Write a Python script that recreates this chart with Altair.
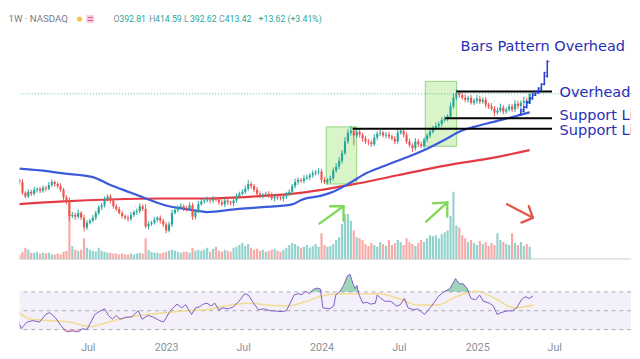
import altair as alt
import pandas as pd

# ---------------- data (weekly bars) ----------------
closes = [
    235, 231, 209, 201, 211, 207, 215, 217, 213, 219,
    217, 225, 231, 227, 223, 215, 199, 191, 161, 163,
    159, 167, 157, 137, 147, 151, 157, 167, 179, 183,
    195, 201, 193, 181, 175, 167, 161, 157, 155, 163,
    169, 171, 181, 175, 139, 145, 147, 153, 157, 151,
    143, 131, 143, 167, 173, 179, 181, 177, 175, 183,
    159, 171, 185, 191, 193, 195, 193, 197, 195, 189,
    185, 193, 189, 187, 193, 201, 207, 211, 217, 227,
    223, 215, 207, 203, 205, 207, 203, 197, 201, 199,
    197, 201, 205, 211, 223, 231, 235, 233, 239, 241,
    245, 249, 251, 253, 235, 231, 235, 239, 255, 263,
    275, 291, 315, 333, 337, 327, 335, 329, 321, 315,
    313, 309, 323, 331, 333, 327, 329, 325, 321, 315,
    333, 337, 329, 315, 307, 301, 315, 309, 305, 319,
    327, 335, 343, 347, 351, 359, 363, 367, 387, 405,
    415, 411, 405, 401, 405, 395, 399, 403, 397, 401,
    391, 387, 383, 375, 379, 385, 377, 381, 387, 381,
    393, 388, 395, 399, 392.81, 413.42,
]
first_open = 239.0
wick_up = [
    5, 4, 6, 3, 5, 4, 6, 3, 4, 5,
    4, 6, 5, 3, 4, 6, 4, 5, 8, 6,
    5, 7, 4, 6, 5, 4, 6, 5, 4, 5,
    6, 4, 5, 3, 4, 5, 4, 3, 5, 6,
    4, 5, 6, 4, 10, 5, 4, 6, 3, 5,
    4, 5, 6, 7, 5, 4, 6, 4, 5, 6,
    5, 4, 7, 5, 4, 6, 3, 5, 4, 5,
    6, 4, 5, 3, 5, 6, 4, 5, 7, 8,
    5, 4, 6, 5, 3, 4, 5, 6, 4, 5,
    3, 4, 6, 5, 4, 7, 5, 4, 6, 5,
    4, 6, 5, 7, 5, 6, 4, 5, 6, 7,
    8, 6, 9, 7, 10, 8, 6, 5, 4, 6,
    5, 4, 7, 5, 6, 4, 5, 6, 4, 5,
    7, 6, 4, 5, 6, 4, 7, 5, 6, 4,
    5, 6, 4, 7, 5, 6, 5, 4, 8, 9,
    8, 6, 5, 7, 4, 6, 5, 8, 6, 5,
    6, 4, 7, 5, 6, 8, 5, 4, 6, 5,
    7, 6, 5, 8, 6, 1.17,
]
wick_dn = [
    4, 6, 5, 4, 3, 5, 4, 6, 5, 4,
    5, 3, 4, 6, 5, 4, 5, 6, 10, 5,
    6, 4, 5, 8, 5, 4, 3, 5, 4, 6,
    5, 4, 6, 5, 4, 3, 5, 4, 6, 5,
    4, 6, 5, 4, 4, 6, 5, 4, 5, 6,
    5, 6, 4, 5, 3, 5, 4, 6, 5, 4,
    6, 5, 4, 3, 5, 4, 6, 5, 4, 5,
    4, 6, 5, 4, 6, 5, 4, 3, 5, 4,
    6, 5, 4, 5, 6, 4, 5, 4, 6, 5,
    4, 6, 5, 3, 4, 5, 6, 4, 5, 4,
    6, 5, 4, 5, 6, 4, 5, 6, 5, 4,
    5, 6, 4, 5, 6, 20, 5, 6, 7, 5,
    6, 5, 4, 6, 5, 4, 6, 5, 4, 6,
    5, 4, 6, 5, 4, 8, 5, 6, 4, 5,
    6, 5, 4, 5, 6, 5, 4, 6, 5, 4,
    5, 6, 4, 5, 6, 4, 5, 6, 5, 4,
    6, 5, 4, 8, 5, 4, 6, 5, 4, 5,
    5, 6, 4, 5, 4, 0.19,
]
volume = [
    6, 5, 8, 12, 10, 7, 7, 8, 6, 7,
    6, 7, 5, 5, 6, 5, 8, 9, 50, 14,
    10, 9, 10, 22, 12, 10, 9, 8, 12, 9,
    8, 7, 7, 6, 6, 5, 6, 5, 5, 6,
    5, 6, 7, 6, 22, 10, 8, 7, 7, 6,
    7, 8, 9, 10, 9, 8, 7, 8, 8, 7,
    12, 9, 10, 9, 10, 12, 8, 11, 13, 9,
    8, 10, 9, 8, 12, 13, 15, 17, 14, 16,
    12, 10, 11, 9, 10, 8, 9, 10, 11, 9,
    8, 10, 12, 15, 17, 16, 14, 12, 13, 15,
    12, 14, 16, 13, 27, 15, 13, 14, 16, 20,
    23, 37, 47, 47, 40, 30, 23, 22, 20, 16,
    14, 17, 15, 13, 18, 16, 14, 20, 15, 17,
    20, 18, 15, 22, 18, 16, 14, 17, 20, 18,
    22, 25, 24, 25, 22, 26, 28, 30, 45, 70,
    35, 33, 25, 22, 18, 20, 17, 15, 19, 16,
    18, 14, 17, 15, 27, 20, 18, 16, 15, 27,
    17, 15, 18, 14, 16, 13,
]

# moving averages (week index, price)
blue_w = [0, 8, 16, 26, 32, 39, 45, 52, 58, 65, 75, 84, 94, 97.5, 104, 108,
          113.7, 119.2, 124, 130, 139.7, 146.2, 151, 156, 162.4, 168.9, 175]
blue_p = [259, 255, 249, 241, 225, 209, 195, 181, 175, 169, 175, 179, 185, 195, 203, 211,
          229, 249, 261, 275, 299, 319, 335, 345, 355, 365, 375]
red_w = [0, 16, 32, 49, 65, 81, 97.5, 113.7, 130, 146.2, 162.4, 175]
red_p = [185, 191, 195, 197, 197, 201, 209, 225, 245, 265, 281, 297]

# RSI and its average
rsi_w = [0, 1.9, 3.2, 5.2, 7.1, 9.4, 11.4, 12.7, 14.6, 16.6,
         18.5, 20.5, 22.4, 23.7, 25.3, 26.6, 27.9, 29.9, 31.2, 32.5,
         33.8, 35.1, 36.4, 38.3, 40.3, 42.5, 43.8, 45.8, 47.7, 49.7,
         51, 52.9, 54.2, 55.5, 57.1, 58.4, 60.4, 61.7, 63, 64.3,
         65.6, 66.9, 68.2, 69.5, 70.8, 72.7, 74.4, 76.3, 78.2, 79.5,
         80.8, 82.8, 84.7, 86.7, 88.6, 90.9, 92.2, 93.5, 94.8, 96.1,
         97.4, 98.7, 100, 101.3, 102.6, 103.6, 104.5, 106.8, 108.1, 108.8,
         110.1, 111.4, 112.7, 113.6, 114.6, 115.3, 115.9, 116.6, 117.9, 119.2,
         120.5, 122.1, 122.7, 124, 125.3, 127.3, 129.2, 130.5, 131.8, 133.1,
         135.1, 136.4, 138.6, 139.9, 141.2, 143.2, 145.1, 147.1, 149, 150.3,
         151.6, 152.9, 154.2, 155.8, 157.1, 158.4, 160.4, 161.7, 163, 164.3,
         166.2, 168.2, 169.5, 171.1, 172.4, 173.7, 175]
rsi_v = [51, 43, 31, 38, 39.5, 38, 46, 48, 43, 34,
         27.6, 28.6, 27.6, 31, 30, 38, 46, 50, 52, 45,
         41, 45, 41, 43, 43.5, 50, 41, 45, 43, 39.5,
         38, 48, 53, 57, 53, 56.5, 46, 53, 54, 57,
         58, 55, 58, 51, 53, 52, 54, 60, 68, 66.5,
         60, 51, 52, 50, 49.7, 49, 50, 58, 66.6, 68,
         67, 70.7, 68, 72.7, 74, 73, 53, 52, 55, 66.6,
         70, 76.8, 87, 88.6, 78.5, 73.4, 76.8, 67, 58, 59,
         57, 58, 66.6, 63, 60, 60, 55, 56.4, 63, 53,
         51, 52, 46, 51, 56, 65, 70, 73.4, 84, 78.5,
         78.5, 73.4, 63, 61.5, 66.6, 60, 58, 55, 46, 48,
         49.7, 50, 53, 61.5, 65, 63, 65.6]
rsi_ma_w = [0, 6.5, 13, 19.5, 26, 32.5, 39, 45.5, 51.9, 58.4, 64.9, 71.4, 79.5, 86,
            92.5, 99, 103.9, 110.4, 116.9, 123.4, 129.9, 136.4, 142.9, 149.4, 155.8,
            162.3, 168.8, 175]
rsi_ma_v = [55, 41, 39.5, 38, 33, 38, 43, 46, 48, 50, 51, 55, 58, 56,
            55, 60, 65.6, 68, 68, 68, 63, 56, 56, 65, 70.7, 63, 53, 56]

# annotations
box_w1 = [105.6, 139.4]
box_w2 = [116.0, 150.1]
box_lo = [227, 305]
box_hi = [345, 439]
lvl_w1 = [150.0, 146.2, 114.6]
lvl_w2 = [182.6, 182.6, 182.6]
lvl_p = [418, 363, 341]
proj_w = [172, 173, 174, 175, 176, 177, 178, 179, 180, 181]
proj_lo = [369, 375, 383, 393, 401, 409, 413, 419, 431, 447]
proj_hi = [383, 389, 399, 407, 415, 421, 427, 435, 459, 483]
proj_open = [371, 377, 385, 395, 403, 410, 415, 421, 433, 450]
proj_close = [381, 387, 397, 405, 413, 419, 425, 433, 457, 480]
garrow_w1 = [103.3, 111.5, 111.5, 139.7, 146.9, 146.9]
garrow_p1 = [145, 181, 181, 149, 189, 189]
garrow_w2 = [111.5, 106.9, 111.5, 146.9, 142.0, 146.9]
garrow_p2 = [181, 181, 151, 189, 187, 159]
rarrow_w1 = [167.3, 176.1, 176.1]
rarrow_p1 = [185, 157, 157]
rarrow_w2 = [176.1, 172.2, 174.7]
rarrow_p2 = [157, 147, 181]
note_text = ["Bars Pattern Overhead", "Overhead Resistance", "Support Line", "Support Line"]
note_w = [151.4, 185.2, 185.2, 185.2]
note_p = [511, 417, 369, 339]
last_close = 413.42

hdr_keys = ["O", "H", "L", "C"]
hdr_vals = ["392.81", "414.59", "392.62", "413.42"]
hdr_change = "+13.62 (+3.41%)"
hdr_title = "1W \u00b7 NASDAQ"

tick_weeks = [25.57, 51.86, 77.71, 104, 130, 156.29, 182.14]
tick_labels = ["Jul", "2023", "Jul", "2024", "Jul", "2025", "Jul"]

# ---------------- build ----------------
W, HM, HR = 632, 254, 78
G, R = "#26a69a", "#ef5350"
xs = alt.Scale(domain=[2.673, 207.92], nice=False, zero=False)
ps = alt.Scale(domain=[71, 579], nice=False, zero=False)
vs = alt.Scale(domain=[0, 254], nice=False, zero=False)
rs = alt.Scale(domain=[21.3, 101.3], nice=False, zero=False)

opens = [first_open] + closes[:-1]
cdf = pd.DataFrame({"w": list(range(len(closes))), "open": opens, "close": closes, "vol": volume})
cdf["high"] = [max(o, c) + u for o, c, u in zip(opens, closes, wick_up)]
cdf["low"] = [min(o, c) - d for o, c, d in zip(opens, closes, wick_dn)]
cdf["dir"] = ["up" if c >= o else "down" for o, c in zip(opens, closes)]
col = alt.Color("dir:N", scale=alt.Scale(domain=["up", "down"], range=[G, R]), legend=None)


def X(f):
    return alt.X(f"{f}:Q", scale=xs, axis=None)


def P(f):
    return alt.Y(f"{f}:Q", scale=ps, axis=None)


def PX(f):
    return alt.X(f"{f}:Q", scale=None)


def PY(f):
    return alt.Y(f"{f}:Q", scale=None)


boxes = alt.Chart(pd.DataFrame({"w1": box_w1, "w2": box_w2, "lo": box_lo, "hi": box_hi})).mark_rect(
    fill="#c8f0b0", fillOpacity=0.7, stroke="#8fd47a", strokeWidth=1, clip=True
).encode(x=X("w1"), x2="w2:Q", y=P("lo"), y2="hi:Q")

vol = alt.Chart(cdf).mark_bar(size=2.2, opacity=0.5, clip=True).encode(
    x=X("w"), y=alt.Y("vol:Q", scale=vs, axis=None), color=col)

red_ma = alt.Chart(pd.DataFrame({"w": red_w, "p": red_p})).mark_line(
    color="#e23b44", strokeWidth=2.2, interpolate="monotone", clip=True).encode(x=X("w"), y=P("p"))
blue_ma = alt.Chart(pd.DataFrame({"w": blue_w, "p": blue_p})).mark_line(
    color="#3b5bdb", strokeWidth=2.3, interpolate="monotone", clip=True).encode(x=X("w"), y=P("p"))

wicks = alt.Chart(cdf).mark_rule(strokeWidth=1, clip=True).encode(x=X("w"), y=P("low"), y2="high:Q", color=col)
bodies = alt.Chart(cdf).mark_bar(size=2.2, clip=True).encode(x=X("w"), y=P("open"), y2="close:Q", color=col)

lastp = alt.Chart(pd.DataFrame({"p": [last_close]})).mark_rule(
    color=G, strokeDash=[1, 2], strokeWidth=1, opacity=0.8).encode(y=P("p"))

levels = alt.Chart(pd.DataFrame({"w1": lvl_w1, "w2": lvl_w2, "p": lvl_p})).mark_rule(
    color="black", strokeWidth=2, clip=True).encode(x=X("w1"), x2="w2:Q", y=P("p"))

pdf = pd.DataFrame({"w": proj_w, "lo": proj_lo, "hi": proj_hi, "o": proj_open, "c": proj_close})
proj = alt.Chart(pdf).mark_rule(color="#2b3fd6", strokeWidth=1.6, clip=True).encode(
    x=X("w"), y=P("lo"), y2="hi:Q")
proj_o = alt.Chart(pdf).mark_tick(color="#2b3fd6", orient="horizontal", size=2.5, thickness=1.2,
                                  xOffset=-1.2, clip=True).encode(x=X("w"), y=P("o"))
proj_c = alt.Chart(pdf).mark_tick(color="#2b3fd6", orient="horizontal", size=2.5, thickness=1.2,
                                  xOffset=1.2, clip=True).encode(x=X("w"), y=P("c"))

garrows = alt.Chart(pd.DataFrame({"w1": garrow_w1, "p1": garrow_p1, "w2": garrow_w2, "p2": garrow_p2})).mark_rule(
    color="#7fd858", strokeWidth=2.4, strokeCap="round", clip=True).encode(x=X("w1"), x2="w2:Q", y=P("p1"), y2="p2:Q")
rarrows = alt.Chart(pd.DataFrame({"w1": rarrow_w1, "p1": rarrow_p1, "w2": rarrow_w2, "p2": rarrow_p2})).mark_rule(
    color="#e2574c", strokeWidth=2.4, strokeCap="round", clip=True).encode(x=X("w1"), x2="w2:Q", y=P("p1"), y2="p2:Q")

notes = alt.Chart(pd.DataFrame({"t": note_text, "w": note_w, "p": note_p})).mark_text(
    align="left", baseline="middle", font="DejaVu Sans", fontSize=15, color="#2a2fb5", clip=True
).encode(x=X("w"), y=P("p"), text="t:N")

# header (pixel positions)
hx_keys = [97, 134, 170, 206]
hx_vals = [103, 140, 176, 212]
hy = 5.5
hdr_k = alt.Chart(pd.DataFrame({"t": hdr_keys, "px": hx_keys, "py": [hy] * 4})).mark_text(
    align="left", baseline="middle", font="Roboto", fontSize=9, color="#8c8f99"
).encode(x=PX("px"), y=PY("py"), text="t:N")
hdr_v = alt.Chart(pd.DataFrame({"t": hdr_vals + [hdr_change], "px": hx_vals + [247], "py": [hy] * 5})).mark_text(
    align="left", baseline="middle", font="Roboto", fontSize=9, color="#26a69a"
).encode(x=PX("px"), y=PY("py"), text="t:N")
hdr_t = alt.Chart(pd.DataFrame({"t": [hdr_title], "px": [50], "py": [hy]})).mark_text(
    align="right", baseline="middle", font="Roboto", fontSize=10, color="#787b86"
).encode(x=PX("px"), y=PY("py"), text="t:N")
sun = alt.Chart(pd.DataFrame({"px": [62], "py": [hy]})).mark_point(
    shape="circle", filled=True, size=28, color="#f6c343", opacity=1
).encode(x=PX("px"), y=PY("py"))
badge = alt.Chart(pd.DataFrame({"px": [73], "py": [hy]})).mark_square(
    size=64, color="#f9c9dc", opacity=1
).encode(x=PX("px"), y=PY("py"))
badge_t = alt.Chart(pd.DataFrame({"t": ["="], "px": [73], "py": [hy]})).mark_text(
    fontSize=10, fontWeight="bold", color="#e0508a", baseline="middle"
).encode(x=PX("px"), y=PY("py"), text="t:N")

sep = alt.Chart(pd.DataFrame({"a": [0]})).mark_rule(color="#c5c8ce", strokeWidth=1).encode(
    x=alt.value(0), x2=alt.value(W), y=alt.value(HM - 0.5))

main = alt.layer(
    boxes, vol, red_ma, blue_ma, wicks, bodies, lastp, levels, proj, proj_o, proj_c, garrows, rarrows, notes,
    hdr_t, sun, badge, badge_t, hdr_k, hdr_v, sep
).resolve_scale(y="independent").properties(width=W, height=HM)

# ---------------- RSI pane ----------------
expr = " : ".join(f"abs(datum.value - {v}) < 0.5 ? '{t}'" for v, t in zip(tick_weeks, tick_labels)) + " : ''"
xaxis = alt.Axis(values=tick_weeks, labelExpr=expr, ticks=False, domain=False, grid=False, title=None,
                 labelColor="#8c8f99", labelFontSize=11, labelFont="Roboto", labelPadding=4,
                 labelFlush=False, labelOverlap=False)


def XR(f):
    return alt.X(f"{f}:Q", scale=xs, axis=xaxis)


def YR(f):
    return alt.Y(f"{f}:Q", scale=rs, axis=None)


rsi_df = pd.DataFrame({"w": rsi_w, "v": rsi_v})
band = alt.Chart(pd.DataFrame({"a": [70], "b": [30]})).mark_rect(
    color="#7e57c2", opacity=0.09).encode(x=alt.value(0), x2=alt.value(W), y=YR("a"), y2="b:Q")
lines = alt.Chart(pd.DataFrame({"lv": [70, 50, 30]})).mark_rule(
    color="#9598a1", strokeDash=[4, 4], strokeWidth=1, opacity=0.8).encode(y=YR("lv"))
ob = alt.Chart(rsi_df).transform_calculate(top="max(datum.v, 70)", base="70").mark_area(
    color="#3fae73", opacity=0.5, clip=True).encode(x=XR("w"), y=YR("top"), y2="base:Q")
os_ = alt.Chart(rsi_df).transform_calculate(bot="min(datum.v, 30)", base="30").mark_area(
    color="#ef5350", opacity=0.3, clip=True).encode(x=XR("w"), y=YR("bot"), y2="base:Q")
rma = alt.Chart(pd.DataFrame({"w": rsi_ma_w, "v": rsi_ma_v})).mark_line(
    color="#f3d98a", strokeWidth=1.6, opacity=0.9, interpolate="monotone", clip=True).encode(x=XR("w"), y=YR("v"))
rline = alt.Chart(rsi_df).mark_line(color="#7e57c2", strokeWidth=1, clip=True).encode(x=XR("w"), y=YR("v"))

rsi = alt.layer(band, lines, ob, os_, rma, rline).properties(width=W, height=HR)

chart = alt.vconcat(main, rsi, spacing=3).properties(padding=0, background="white").configure_view(stroke=None)
chart.save("out.html", embed_options={"renderer": "svg", "actions": False})
